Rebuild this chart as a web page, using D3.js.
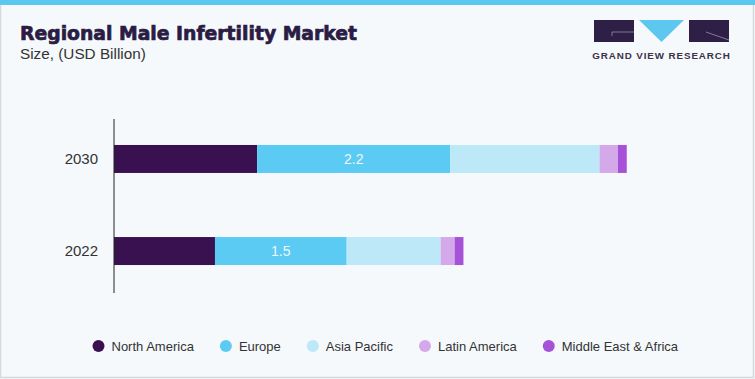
<!DOCTYPE html>
<html><head><meta charset="utf-8">
<script src="https://cdn.jsdelivr.net/npm/d3@7"></script>
<style>
html,body{margin:0;padding:0;background:#fff;}
svg{display:block;}
</style></head>
<body>
<svg id="chart" width="755" height="379"></svg>
<script>
const years = ["2030", "2022"];
const regions = ["North America", "Europe", "Asia Pacific", "Latin America", "Middle East & Africa"];
const northAmerica = [1.63, 1.15];
const europe = [2.2, 1.5];
const asiaPacific = [1.70, 1.07];
const latinAmerica = [0.21, 0.16];
const middleEastAfrica = [0.10, 0.10];
const colors = ["#3a1150", "#5ccbf4", "#bde8f8", "#d4a9e9", "#a552d9"];
const labelSeries = "Europe";

const series = [northAmerica, europe, asiaPacific, latinAmerica, middleEastAfrica];
const rows = years.map((y, i) => {
  const o = {year: y};
  regions.forEach((r, j) => o[r] = series[j][i]);
  return o;
});
const stacked = d3.stack().keys(regions)(rows);

const svg = d3.select("#chart");
const W = 755, H = 379;
svg.append("rect").attr("x",0).attr("y",0).attr("width",W).attr("height",H).attr("fill","#f5f9fc");
svg.append("rect").attr("x",0.5).attr("y",0.5).attr("width",W-2).attr("height",H-2).attr("fill","none").attr("stroke","#d5d9dc").attr("stroke-width",1.5);
svg.append("rect").attr("x",0).attr("y",0).attr("width",W).attr("height",5).attr("fill","#5dc7ef");

// Title
svg.append("text").attr("x",20).attr("y",40).text("Regional Male Infertility Market")
  .attr("font-family","'DejaVu Sans', sans-serif").attr("font-weight","bold").attr("font-size",18.8)
  .attr("fill","#2b1c43").attr("stroke","#2b1c43").attr("stroke-width",0.7);
svg.append("text").attr("x",20).attr("y",59).text("Size, (USD Billion)")
  .attr("font-family","'Liberation Sans', Arial, sans-serif").attr("font-size",15.3).attr("fill","#333");

// Logo
const logo = svg.append("g");
logo.append("rect").attr("x",594).attr("y",20).attr("width",40).attr("height",22).attr("fill","#2e1f47");
logo.append("path").attr("d","M612 36 L612 32 L634 32").attr("fill","none").attr("stroke","#9a92a8").attr("stroke-width",0.8);
logo.append("path").attr("d","M639 20 L684 20 L661.5 42 Z").attr("fill","#5dc7ef");
logo.append("rect").attr("x",689).attr("y",20).attr("width",40).attr("height",22).attr("fill","#2e1f47");
logo.append("path").attr("d","M706 32 L729 40").attr("fill","none").attr("stroke","#9a92a8").attr("stroke-width",0.8);
logo.append("text").attr("x",661.5).attr("y",59).attr("text-anchor","middle").text("GRAND VIEW RESEARCH")
  .attr("font-family","'Liberation Sans', Arial, sans-serif").attr("font-weight","bold").attr("font-size",9.8)
  .attr("letter-spacing",0.9).attr("fill","#3b3248");

// Scales
const x = d3.scaleLinear().domain([0, 6]).range([114, 114 + 6*87.8]);
const y = d3.scaleBand().domain(years).range([118, 292]).paddingInner(0.696).paddingOuter(0.293);

const g = svg.append("g");
stacked.forEach((s, j) => {
  g.selectAll(null).data(s).enter().append("rect")
    .attr("x", d => x(d[0]))
    .attr("y", d => y(d.data.year))
    .attr("width", d => x(d[1]) - x(d[0]))
    .attr("height", y.bandwidth())
    .attr("fill", colors[j]);
});
const eu = stacked[regions.indexOf(labelSeries)];
g.selectAll(null).data(eu).enter().append("text")
  .attr("x", d => (x(d[0]) + x(d[1]))/2)
  .attr("y", d => y(d.data.year) + y.bandwidth()/2)
  .attr("dy","0.35em").attr("text-anchor","middle")
  .text(d => d3.format(".1f")(d[1]-d[0]))
  .attr("font-family","'Liberation Sans', Arial, sans-serif").attr("font-size",14).attr("fill","#eef7fc");

// Axis
const ax = svg.append("g").attr("transform","translate(114,0)").call(d3.axisLeft(y).tickSize(0).tickPadding(16));
ax.select(".domain").attr("stroke","#222").attr("d","M0,119V293");
ax.selectAll("text").attr("font-family","'Liberation Sans', Arial, sans-serif").attr("font-size",15).attr("fill","#333");

// Legend
const leg = svg.append("g");
let lx = 92;
regions.forEach((r, j) => {
  leg.append("circle").attr("cx", lx + 6.5).attr("cy", 346).attr("r", 6).attr("fill", colors[j]);
  const t = leg.append("text").attr("x", lx + 19.5).attr("y", 346).attr("dy","0.35em").text(r)
    .attr("font-family","'Liberation Sans', Arial, sans-serif").attr("font-size",13).attr("fill","#333");
  lx = lx + 19.5 + t.node().getComputedTextLength() + 25.5;
});
</script>
</body></html>
